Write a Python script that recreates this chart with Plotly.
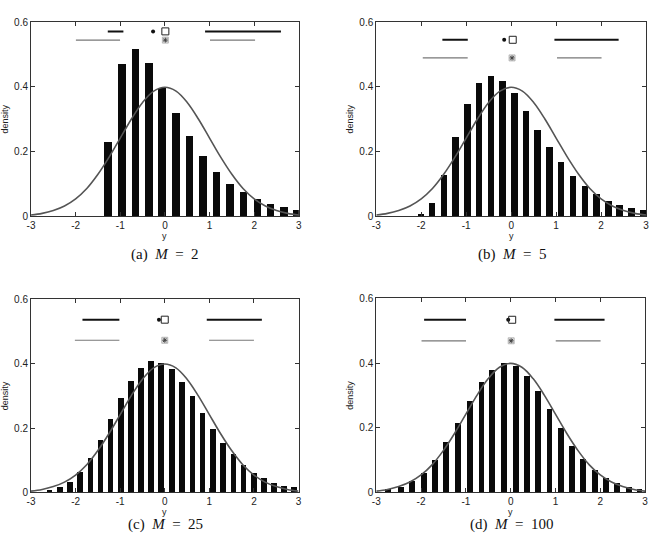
import plotly.graph_objects as go

# ---------------- data ----------------
# panel captions
captions = ["(a)&nbsp;&nbsp;<i>M</i>&nbsp;&nbsp;=&nbsp;&nbsp;2", "(b)&nbsp;&nbsp;<i>M</i>&nbsp;&nbsp;=&nbsp;&nbsp;5",
            "(c)&nbsp;&nbsp;<i>M</i>&nbsp;&nbsp;=&nbsp;&nbsp;25", "(d)&nbsp;&nbsp;<i>M</i>&nbsp;&nbsp;=&nbsp;&nbsp;100"]

# histogram bin centres and densities, per panel
a_x = [-1.27, -0.967, -0.66, -0.36, -0.063, 0.25, 0.55, 0.85, 1.16, 1.46, 1.76, 2.07, 2.37, 2.67, 2.96]
a_y = [0.229, 0.469, 0.516, 0.473, 0.395, 0.319, 0.246, 0.185, 0.137, 0.099, 0.074, 0.052, 0.038, 0.027, 0.019]

b_x = [-1.996, -1.755, -1.49, -1.227, -0.97, -0.707, -0.443, -0.187, 0.077, 0.333,
       0.597, 0.861, 1.117, 1.38, 1.645, 1.90, 2.165, 2.42, 2.685, 2.95]
b_y = [0.005, 0.041, 0.127, 0.243, 0.346, 0.411, 0.434, 0.418, 0.379, 0.325,
       0.267, 0.212, 0.166, 0.123, 0.093, 0.067, 0.047, 0.033, 0.024, 0.017]

c_x = [-2.585, -2.356, -2.126, -1.897, -1.664, -1.442, -1.214, -0.977, -0.755, -0.53,
       -0.304, -0.078, 0.159, 0.388, 0.625, 0.85, 1.08, 1.31, 1.54, 1.77,
       2.00, 2.22, 2.45, 2.68, 2.90]
c_y = [0.005, 0.014, 0.031, 0.061, 0.106, 0.162, 0.226, 0.291, 0.346, 0.387,
       0.406, 0.400, 0.382, 0.343, 0.297, 0.245, 0.196, 0.152, 0.117, 0.083,
       0.060, 0.043, 0.028, 0.019, 0.015]

d_x = [-2.735, -2.45, -2.20, -1.935, -1.69, -1.43, -1.17, -0.909, -0.647, -0.405,
       -0.147, 0.12, 0.372, 0.622, 0.873, 1.123, 1.38, 1.625, 1.88, 2.13,
       2.38, 2.64, 2.88]
d_y = [0.009, 0.016, 0.033, 0.060, 0.099, 0.153, 0.214, 0.281, 0.340, 0.378,
       0.400, 0.390, 0.360, 0.312, 0.256, 0.198, 0.143, 0.101, 0.068, 0.044,
       0.028, 0.016, 0.008]

# bar widths (data units)
bar_w = [0.17, 0.147, 0.126, 0.13]

# reference density curve
curve_x = [-3.0, -2.75, -2.5, -2.25, -2.0, -1.75, -1.5, -1.25, -1.0, -0.75, -0.5, -0.25, 0.0,
           0.25, 0.5, 0.75, 1.0, 1.25, 1.5, 1.75, 2.0, 2.25, 2.5, 2.75, 3.0]
curve_y = [0.004, 0.009, 0.018, 0.032, 0.054, 0.086, 0.130, 0.183, 0.242, 0.301, 0.352, 0.387, 0.399,
           0.387, 0.352, 0.301, 0.242, 0.183, 0.130, 0.086, 0.054, 0.032, 0.018, 0.009, 0.004]

# sample interval summaries: (left lo, left hi, dot, square, right lo, right hi)
sample_stats = [
    (-1.28, -0.93, -0.265, 0.01, 0.90, 2.60),
    (-1.53, -0.965, -0.155, 0.035, 0.962, 2.39),
    (-1.846, -1.018, -0.13, 0.0, 0.942, 2.178),
    (-1.932, -0.997, -0.055, 0.034, 0.976, 2.096),
]
# reference interval summaries: (left lo, left hi, star, right lo, right hi)
ref_stats = [
    (-1.994, -1.005, 0.01, 1.01, 2.02),
    (-1.966, -0.967, 0.02, 1.02, 2.01),
    (-2.016, -1.018, 0.0, 0.994, 2.0),
    (-1.99, -0.997, 0.012, 1.006, 2.007),
]

x_ticks = [-3, -2, -1, 0, 1, 2, 3]
x_ticktext = ["-3", "-2", "-1", "0", "1", "2", "3"]
y_ticks = [0, 0.2, 0.4, 0.6]
y_ticktext = ["0", "0.2", "0.4", "0.6"]
x_title = "y"
y_title = "density"

# ---------------- layout / styles ----------------
W, H = 654, 547
# pixel boxes of each axes: (left, right, top, bottom)
boxes = [(27.3, 298.0, 16.7, 215.0),
         (376.3, 649.0, 16.7, 215.0),
         (27.3, 297.7, 300.0, 497.3),
         (376.3, 648.0, 299.0, 497.3)]
row_y = [(0.572, 0.545), (0.546, 0.490), (0.537, 0.473), (0.534, 0.469)]
caption_pos = [(163, 254), (513, 254), (163, 530), (513, 530)]

bars = [(a_x, a_y), (b_x, b_y), (c_x, c_y), (d_x, d_y)]

fig = go.Figure()
tick_font = dict(family="Liberation Sans, Arial, sans-serif", size=10, color="#222")
title_font = dict(family="Liberation Sans, Arial, sans-serif", size=9, color="#222")

for i in range(4):
    xa = "x" if i == 0 else f"x{i+1}"
    ya = "y" if i == 0 else f"y{i+1}"
    bx, by = bars[i]
    fig.add_trace(go.Bar(x=bx, y=by, width=bar_w[i], marker=dict(color="#0a0a0a", line=dict(width=0)),
                         xaxis=xa, yaxis=ya, showlegend=False))
    fig.add_trace(go.Scatter(x=curve_x, y=curve_y, mode="lines", line=dict(color="#555", width=1.6, shape="spline"),
                             xaxis=xa, yaxis=ya, showlegend=False))
    s = sample_stats[i]
    r = ref_stats[i]
    yu, yl = row_y[i]
    # sample row (black)
    for lo, hi in [(s[0], s[1]), (s[4], s[5])]:
        fig.add_trace(go.Scatter(x=[lo, hi], y=[yu, yu], mode="lines", line=dict(color="#111", width=2),
                                 xaxis=xa, yaxis=ya, showlegend=False))
    fig.add_trace(go.Scatter(x=[s[2]], y=[yu], mode="markers", marker=dict(symbol="circle", size=4, color="#111"),
                             xaxis=xa, yaxis=ya, showlegend=False))
    fig.add_trace(go.Scatter(x=[s[3]], y=[yu], mode="markers",
                             marker=dict(symbol="square-open", size=7, color="#222", line=dict(width=1)),
                             xaxis=xa, yaxis=ya, showlegend=False))
    # reference row (grey)
    for lo, hi in [(r[0], r[1]), (r[3], r[4])]:
        fig.add_trace(go.Scatter(x=[lo, hi], y=[yl, yl], mode="lines", line=dict(color="#777", width=1.2),
                                 xaxis=xa, yaxis=ya, showlegend=False))
    fig.add_trace(go.Scatter(x=[r[2]], y=[yl], mode="markers",
                             marker=dict(symbol="square", size=6, color="#ddd", line=dict(color="#aaa", width=0.8)),
                             xaxis=xa, yaxis=ya, showlegend=False))
    fig.add_trace(go.Scatter(x=[r[2]], y=[yl], mode="markers",
                             marker=dict(symbol="asterisk-open", size=4, color="#444", line=dict(color="#444", width=1)),
                             xaxis=xa, yaxis=ya, showlegend=False))

    l, rr, t, b = boxes[i]
    xkey = "xaxis" if i == 0 else f"xaxis{i+1}"
    ykey = "yaxis" if i == 0 else f"yaxis{i+1}"
    fig.layout[xkey] = dict(domain=[l / W, rr / W], anchor=ya, range=[-3, 3],
                            tickvals=x_ticks, ticktext=x_ticktext, ticks="inside", ticklen=4,
                            tickcolor="#333", showline=True, linecolor="#333", linewidth=1, mirror="ticks",
                            showgrid=False, zeroline=False, tickfont=tick_font)
    fig.layout[ykey] = dict(domain=[(H - b) / H, (H - t) / H], anchor=xa, range=[0, 0.6],
                            tickvals=y_ticks, ticktext=y_ticktext, ticks="inside", ticklen=4,
                            tickcolor="#333", showline=True, linecolor="#333", linewidth=1, mirror="ticks",
                            showgrid=False, zeroline=False, tickfont=tick_font,
                            title=dict(text=y_title, font=title_font, standoff=4))
    # x-axis title placed just under the tick labels
    fig.add_annotation(x=(l + rr) / 2 / W, y=(H - (b + 20)) / H, xref="paper", yref="paper", text=x_title,
                       showarrow=False, font=title_font, xanchor="center", yanchor="middle")
    cx, cy = caption_pos[i]
    fig.add_annotation(x=cx / W, y=(H - cy) / H, xref="paper", yref="paper", text=captions[i],
                       showarrow=False, font=dict(family="Liberation Serif, DejaVu Serif, serif", size=15, color="#111"),
                       xanchor="center", yanchor="middle")

fig.update_layout(width=W, height=H, margin=dict(l=0, r=0, t=0, b=0), paper_bgcolor="white",
                  plot_bgcolor="white", bargap=0)
fig.write_html("out.html")
